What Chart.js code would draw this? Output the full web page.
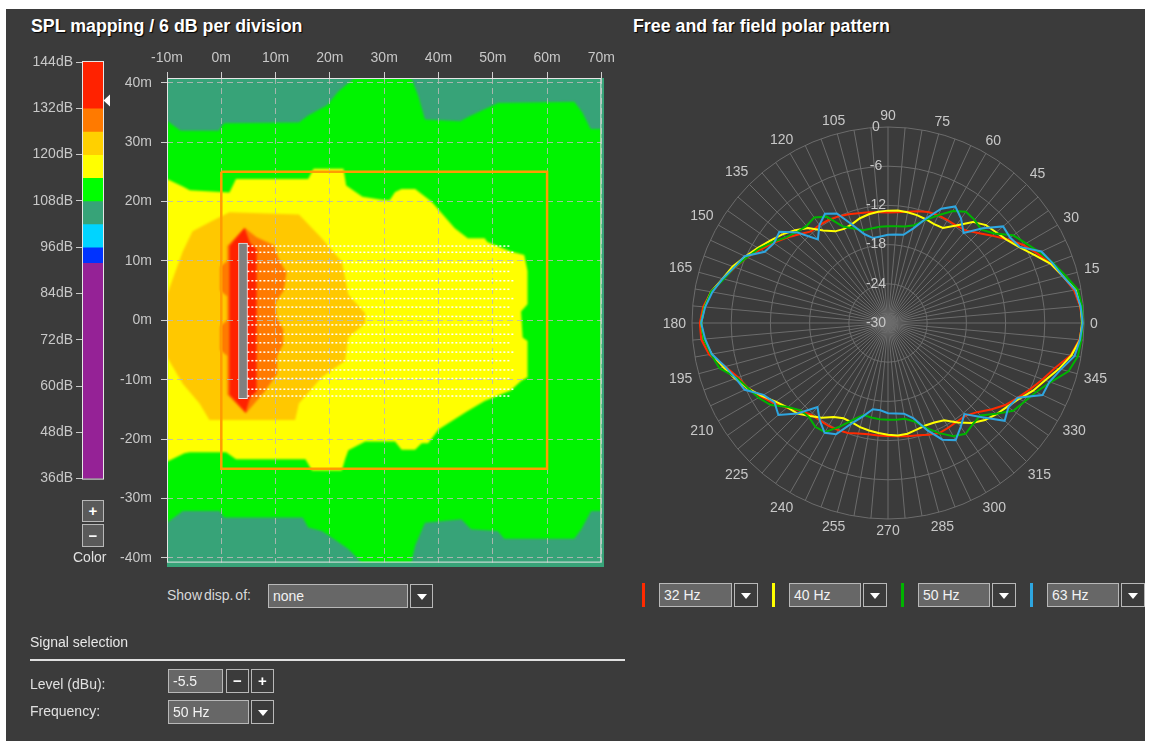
<!DOCTYPE html>
<html>
<head>
<meta charset="utf-8">
<script src="https://cdn.jsdelivr.net/npm/chart.js@4.4.1/dist/chart.umd.min.js"></script>
<style>
  html, body { margin: 0; padding: 0; background: #ffffff; }
  body { width: 1149px; height: 743px; position: relative; overflow: hidden;
         font-family: "Liberation Sans", Arial, sans-serif; }
  #panel { position: absolute; left: 6px; top: 9px; width: 1139px; height: 732px; background: #3b3b3b; }
  .abs { position: absolute; white-space: nowrap; }
  .title { color: #ffffff; font-weight: bold; font-size: 17.8px; text-shadow: 1px 1px 1px #000; }
  .lbl { color: #e4e4e4; font-size: 14px; }
  .box { position: absolute; box-sizing: border-box; background: #676767; border: 1px solid #b8b8b8;
         color: #f2f2f2; font-size: 14px; padding-left: 4px; }
  .btn { position: absolute; box-sizing: border-box; background: #3b3b3b; border: 1px solid #b8b8b8; }
  .arrow::after { content: ""; position: absolute; left: 50%; top: 50%; margin-left: -5px; margin-top: -2px;
                  border-left: 5px solid transparent; border-right: 5px solid transparent; border-top: 6px solid #ffffff; }
  .sym { color: #ffffff; font-weight: bold; font-size: 15px; text-align: center; }
  .sw { position: absolute; width: 3px; }
  canvas { position: absolute; }
</style>
</head>
<body>
<div id="panel"></div>

<div class="abs title" style="left:31px; top:16px;">SPL mapping / 6 dB per division</div>
<div class="abs title" style="left:633px; top:16px;">Free and far field polar pattern</div>

<div id="mapArea" class="abs" style="left:167px; top:78px; width:437px; height:489px; background:#37a378;"></div>
<canvas id="cbar" width="90" height="440" style="left:20px; top:50px;"></canvas>
<canvas id="map" width="520" height="540" style="left:100px; top:40px;"></canvas>
<canvas id="polar" width="520" height="450" style="left:628px; top:100px;"></canvas>

<!-- colour bar buttons -->
<div class="btn sym" style="left:82px; top:500px; width:22px; height:22px; line-height:20px; background:#5a5a5a;">+</div>
<div class="btn sym" style="left:82px; top:524px; width:22px; height:23px; line-height:21px; background:#5a5a5a;">&minus;</div>
<div class="abs lbl" style="left:73px; top:549px; color:#e0e0e0;">Color</div>

<!-- display selector -->
<div class="abs lbl" style="left:167px; top:587px; color:#d8d8d8; word-spacing:-2px;">Show disp. of:</div>
<div class="box" style="left:268px; top:584px; width:140px; height:24px; line-height:22px;">none</div>
<div class="btn arrow" style="left:410px; top:584px; width:23px; height:24px;"></div>

<!-- signal selection -->
<div class="abs lbl" style="left:30px; top:634px; color:#e8e8e8;">Signal selection</div>
<div class="abs" style="left:30px; top:659px; width:595px; height:2px; background:#e0e0e0;"></div>
<div class="abs lbl" style="left:30px; top:676px; color:#e0e0e0;">Level (dBu):</div>
<div class="box" style="left:168px; top:669px; width:55px; height:24px; line-height:22px;">-5.5</div>
<div class="btn sym" style="left:226px; top:669px; width:23px; height:24px; line-height:22px;">&minus;</div>
<div class="btn sym" style="left:251px; top:669px; width:23px; height:24px; line-height:22px;">+</div>
<div class="abs lbl" style="left:30px; top:703px; color:#e0e0e0;">Frequency:</div>
<div class="box" style="left:168px; top:700px; width:81px; height:24px; line-height:22px;">50 Hz</div>
<div class="btn arrow" style="left:251px; top:700px; width:23px; height:24px;"></div>

<!-- polar series selectors -->
<div class="sw" style="left:642px; top:583px; height:24px; background:#ff2a00;"></div>
<div class="box" style="left:659px; top:583px; width:73px; height:24px; line-height:22px;">32 Hz</div>
<div class="btn arrow" style="left:734px; top:583px; width:24px; height:24px;"></div>
<div class="sw" style="left:772px; top:583px; height:24px; background:#ffff00;"></div>
<div class="box" style="left:789px; top:583px; width:72px; height:24px; line-height:22px;">40 Hz</div>
<div class="btn arrow" style="left:863px; top:583px; width:24px; height:24px;"></div>
<div class="sw" style="left:901px; top:583px; height:24px; background:#00b400;"></div>
<div class="box" style="left:918px; top:583px; width:72px; height:24px; line-height:22px;">50 Hz</div>
<div class="btn arrow" style="left:992px; top:583px; width:24px; height:24px;"></div>
<div class="sw" style="left:1030px; top:583px; height:24px; background:#2ea6e0;"></div>
<div class="box" style="left:1047px; top:583px; width:72px; height:24px; line-height:22px;">63 Hz</div>
<div class="btn arrow" style="left:1121px; top:583px; width:24px; height:24px;"></div>

<script>
// ---------------- colour scale (dB bands) ----------------
const cbLow    = [132, 126, 120, 114, 108, 102, 96, 92, 36];
const cbHigh   = [144, 132, 126, 120, 114, 108, 102, 96, 92];
const cbColors = ['#ff2200', '#ff7a00', '#ffd000', '#ffff00', '#00ff00', '#37a378', '#00d4ff', '#0033ff', '#952296'];
const cbTicks  = [36, 48, 60, 72, 84, 96, 108, 120, 132, 144];
const cbMarker = 134;

// ---------------- SPL map: axes ----------------
const mapXTicks = [-10, 0, 10, 20, 30, 40, 50, 60, 70];
const mapYTicks = [-40, -30, -20, -10, 0, 10, 20, 30, 40];

// ---------------- SPL map: level regions (outline vertices, metres) ----------------
// >= 108 dB
const greenX = [-10, -7.5, -0.5, 0.5, 14.3, 16, 19.5, 21.5, 24.5, 35, 36.3, 37.5, 44, 46, 51, 65, 66.5, 68, 70,
                70, 68.1, 66.3, 65, 52.1, 50.9, 46, 44.2, 37.5, 35.7, 35, 25.8, 25.2, 23.4, 20.4, 18.5, 16, 15, 0.5, -0.3, -7.1, -10];
const greenY = [33.6, 31.9, 31.9, 33.2, 33.3, 34.5, 36.2, 38.5, 40.8, 40.8, 37.7, 33.8, 33.5, 34.5, 36.6, 36.8, 35, 32.2, 32.2,
                -32.1, -32.1, -35.2, -36.8, -36.8, -35.5, -35.2, -33.5, -34.1, -37.9, -40.8, -40.8, -40.2, -38.5, -36.6, -35.5, -34.9, -33.2, -33.2, -32.1, -32.1, -34.1];
// >= 114 dB
const yellowX = [-10, -7, -5.8, 1.5, 2.7, 16, 17, 22.5, 23, 26, 29.5, 31, 32, 33.2, 35.7, 38.7, 43, 45.4, 48.5, 49, 53.3, 55.8, 56.4, 56.4, 55.2, 55.5, 56.4, 56.4, 55.2, 53.3,
                 48.5, 45, 40, 38.1, 36.9, 35.7, 33.2, 32, 26.5, 23.4, 22.8, 22.2, 16.7, 15.5, 2.7, 0.9, -5.8, -6.8, -10];
const yellowY = [23.8, 22.5, 21.9, 21.5, 23.8, 23.8, 25.5, 25.5, 22.7, 20.8, 20.3, 20.2, 21.6, 22.1, 22.1, 20, 15.5, 13.8, 13.8, 13.2, 11.6, 11, 8.3, 2.7, 1.5, -2.9, -3.5, -9.6, -10.2, -11.8,
                 -13.6, -15.5, -18.4, -20.7, -20.7, -21.8, -21.8, -20.4, -20.4, -21.9, -23.4, -25.3, -25.3, -23.4, -23.4, -22.2, -22.2, -22.4, -23.8];
// >= 120 dB
const goldX = [-10, -7.1, -5.3, -2, 1.5, 14.3, 18.5, 22.2, 23.4, 26.5, 26.5, 23.4, 22.8, 18.5, 14.3, 13.6, -2.2, -4, -7.1, -10];
const goldY = [4.3, 11.6, 15, 16.6, 18.2, 17.8, 13.8, 9.9, 4.3, 1.2, -0.5, -2.9, -6.8, -9.6, -14, -16.8, -16.8, -14, -10.7, -6.2];
// >= 126 dB
const orangeX = [1.1, 4.3, 6.5, 9.8, 10.5, 12, 11.5, 10, 10.2, 11.4, 11.4, 10.3, 10.3, 8, 4.5, 1.1, 1.1, -0.2, -0.2, 1.1, 1.1, -0.2, -0.2, 1.1];
const orangeY = [12.5, 15.6, 14, 12.6, 10.5, 8, 5, 3, 0.5, -1.5, -4, -6, -9, -12, -15.7, -12.5, -6, -5, -1, 0, 4, 5, 9, 10];
// >= 132 dB
const redX = [1.5, 4.3, 5.3, 6.5, 6.5, 5.3, 4.5, 1.5];
const redY = [12.5, 15.5, 13, 12, -12, -13, -15.5, -12.5];

// loudspeaker column and audience area
const speakerX = 4;
const speakerTop = 13;
const speakerBottom = -13.2;
const venueX = [0, 60, 60, 0, 0];
const venueY = [25, 25, -25, -25, 25];

// coverage rays from the array
const rayStartX = 4.8;
const rayY   = [12.5, 11.45, 9.73, 8.23, 6.66, 5.22, 3.66, 2.22, 0.65, -0.78, -2.35, -3.79, -5.36, -6.8, -8.36, -9.8, -11.6, -12.75];
const rayEndX = [53.4, 54.1, 54.1, 53.4, 54.1, 53.4, 54.1, 53.4, 54.1, 53.4, 54.1, 53.4, 54.1, 53.4, 54.1, 53.4, 54.1, 53.4];

// ---------------- polar pattern (dB, angles 0..355 step 5, counter-clockwise from right) ----------------
const polarAngles = [0,5,10,15,20,25,30,35,40,45,50,55,60,65,70,75,80,85,90,95,100,105,110,115,120,125,130,135,140,145,150,155,160,165,170,175,
                     180,185,190,195,200,205,210,215,220,225,230,235,240,245,250,255,260,265,270,275,280,285,290,295,300,305,310,315,320,325,330,335,340,345,350,355];
const spl32 = [-0.2,-0.5,-1.1,-2.3,-3.5,-4.8,-6.1,-7.7,-9.2,-10.5,-11.5,-11.8,-11.8,-11.8,-11.9,-12.3,-12.7,-13.0,-13.1,-13.0,-12.8,-12.6,-12.3,-12.0,-11.8,-11.7,-11.7,-10.8,-9.7,-8.6,-7.5,-6.2,-5.1,-3.9,-2.5,-1.6,
               -1.2,-1.3,-2.2,-4.2,-5.6,-6.4,-7.5,-8.6,-9.8,-11.0,-11.7,-11.8,-11.8,-11.9,-12.1,-12.5,-12.7,-12.7,-12.7,-12.6,-12.4,-12.2,-11.8,-11.4,-11.5,-11.6,-11.5,-10.7,-9.4,-8.1,-7.1,-6.0,-4.8,-3.5,-1.6,-0.6];
const spl40 = [-0.3,-0.4,-0.8,-2.3,-3.5,-5.3,-6.8,-7.8,-8.4,-8.8,-9.8,-11.8,-13.2,-13.3,-13.1,-12.9,-12.8,-12.7,-12.8,-12.9,-13.1,-13.4,-13.9,-14.1,-13.8,-12.7,-11.0,-9.9,-8.9,-8.0,-7.0,-5.9,-4.7,-3.8,-2.5,-1.8,
               -1.4,-1.7,-2.6,-3.9,-5.1,-6.3,-7.7,-9.0,-9.9,-10.4,-11.4,-12.3,-13.4,-13.9,-13.8,-13.5,-13.3,-13.1,-12.9,-12.7,-12.8,-13.1,-13.3,-13.2,-12.8,-11.4,-10.0,-9.0,-8.3,-7.7,-6.8,-5.5,-4.4,-2.9,-1.5,-0.5];
const spl50 = [-0.2,-0.2,-0.5,-1.9,-3.1,-4.4,-5.6,-6.6,-8.7,-9.8,-9.4,-9.2,-10.2,-11.8,-13.2,-14.5,-15.0,-15.15,-15.2,-15.2,-15.3,-15.3,-14.6,-13.7,-11.2,-10.3,-10.6,-10.3,-9.6,-8.4,-7.2,-6.2,-5.0,-4.0,-2.5,-1.8,
               -1.4,-1.7,-2.5,-3.3,-5.4,-6.4,-7.1,-8.1,-10.0,-11.1,-11.2,-10.6,-10.7,-12.5,-14.2,-15.4,-15.3,-15.2,-15.2,-15.15,-15.1,-14.4,-12.9,-11.4,-10.0,-9.3,-9.8,-10.0,-8.4,-6.6,-5.9,-5.0,-3.5,-1.4,-0.5,-0.3];
const spl63 = [-0.2,-0.4,-0.9,-2.3,-3.2,-4.1,-6.7,-7.2,-7.0,-9.5,-12.0,-10.5,-9.4,-10.7,-13.0,-15.0,-16.3,-16.4,-16.5,-16.7,-16.8,-15.9,-14.0,-11.5,-10.7,-11.7,-13.3,-10.4,-8.3,-8.7,-8.2,-5.8,-5.0,-3.8,-2.7,-1.9,
               -1.4,-1.9,-2.6,-4.2,-5.2,-5.8,-8.0,-8.8,-8.1,-10.4,-13.2,-11.8,-10.6,-11.2,-13.6,-15.2,-16.6,-16.6,-16.2,-16.1,-15.9,-14.9,-12.6,-10.3,-9.3,-10.6,-11.8,-9.6,-6.7,-7.5,-7.1,-3.9,-3.7,-2.6,-1.0,-0.5];
const polarRingTicks = [-30, -24, -18, -12, -6, 0];
const polarSeries = [
  { name: '32 Hz', values: spl32, color: '#ff2a00' },
  { name: '40 Hz', values: spl40, color: '#ffff00' },
  { name: '50 Hz', values: spl50, color: '#00b400' },
  { name: '63 Hz', values: spl63, color: '#2ea6e0' }
];

const FONT = '"Liberation Sans", Arial, sans-serif';
const TXT = '#c8c8c8';
Chart.defaults.font.family = FONT;

// ================= colour bar =================
const cbarPlugin = {
  id: 'cbarFrame',
  afterDraw(chart) {
    const {ctx, chartArea: a} = chart;
    const y = chart.scales.y.getPixelForValue(cbMarker);
    ctx.save();
    ctx.strokeStyle = '#e6e6e6';
    ctx.lineWidth = 1;
    ctx.strokeRect(a.left - 0.5, a.top - 0.5, a.right - a.left + 1, a.bottom - a.top + 1);
    ctx.fillStyle = '#ffffff';
    ctx.beginPath();
    ctx.moveTo(a.right + 0.5, y);
    ctx.lineTo(a.right + 7.5, y - 6.5);
    ctx.lineTo(a.right + 7.5, y + 6.5);
    ctx.closePath();
    ctx.fill();
    ctx.restore();
  }
};

new Chart(document.getElementById('cbar'), {
  type: 'bar',
  data: {
    labels: ['SPL'],
    datasets: cbLow.map((lo, i) => ({
      data: [[lo, cbHigh[i]]],
      backgroundColor: cbColors[i],
      borderWidth: 0,
      barPercentage: 1,
      categoryPercentage: 1,
      grouped: false
    }))
  },
  options: {
    responsive: false,
    animation: false,
    layout: { padding: { left: 0, top: 12, right: 7, bottom: 10 } },
    plugins: { legend: { display: false }, tooltip: { enabled: false } },
    scales: {
      x: { display: false },
      y: {
        min: 36, max: 144,
        afterBuildTicks: s => { s.ticks = cbTicks.map(v => ({ value: v })); },
        afterFit: s => { s.width = 63; },
        ticks: { color: TXT, font: { size: 14 }, padding: 3, callback: v => v + 'dB' },
        grid: { drawOnChartArea: false, drawTicks: true, tickLength: 7, color: '#c8c8c8', tickColor: '#c8c8c8' },
        border: { display: false }
      }
    }
  },
  plugins: [cbarPlugin]
});

// ================= SPL map =================
const poly = (xs, ys) => xs.map((x, i) => ({ x: x, y: ys[i] }));
const levelFill = (xs, ys, color) => ({
  type: 'line', data: poly(xs, ys), fill: 'shape', backgroundColor: color,
  borderWidth: 0, borderColor: 'rgba(0,0,0,0)', pointRadius: 0, tension: 0
});

const mapDatasets = [];
rayY.forEach((y, i) => {
  mapDatasets.push({
    type: 'line', data: [{ x: rayStartX, y: y }, { x: rayEndX[i], y: y }],
    borderColor: '#ffffff', borderWidth: 1.5, borderDash: [2, 2], pointRadius: 0, fill: false
  });
});
mapDatasets.push({
  type: 'bar', data: [{ x: speakerX, y: [speakerBottom, speakerTop] }],
  barThickness: 9, backgroundColor: '#808080', borderColor: '#e8e8e8', borderWidth: 1, borderSkipped: false
});
mapDatasets.push({
  type: 'line', data: poly(venueX, venueY), borderColor: '#ff9c00', borderWidth: 2.5,
  pointRadius: 0, fill: false, tension: 0
});
mapDatasets.push(levelFill(redX, redY, '#ff2200'));
mapDatasets.push(levelFill(orangeX, orangeY, '#ff7a00'));
mapDatasets.push(levelFill(goldX, goldY, '#ffc800'));
mapDatasets.push(levelFill(yellowX, yellowY, '#ffff00'));
mapDatasets.push(levelFill(greenX, greenY, '#00f400'));

// level fills are painted in the filler's beforeDraw pass: soften their edges,
// then switch the filter off before the grid and marks are drawn
const softFill = {
  id: 'softFill',
  beforeRender(chart) { chart.ctx.filter = 'blur(1.1px)'; },
  beforeDraw(chart) { chart.ctx.filter = 'none'; }
};

const mapFrame = {
  id: 'mapFrame',
  afterDraw(chart) {
    const {ctx, chartArea: a} = chart;
    ctx.save();
    ctx.strokeStyle = '#e6e6e6';
    ctx.lineWidth = 1;
    ctx.strokeRect(a.left + 0.5, a.top + 0.5, a.right - a.left - 1, a.bottom - a.top - 1);
    ctx.restore();
  }
};

const axisCommon = {
  type: 'linear',
  offset: false,
  ticks: { color: TXT, font: { size: 14 }, maxRotation: 0, autoSkip: false, callback: v => v + 'm' },
  grid: { offset: false, color: 'rgba(185,185,185,0.85)', lineWidth: 1, tickLength: 6, tickColor: '#cfcfcf' },
  border: { display: false, dash: [6, 4] }
};

new Chart(document.getElementById('map'), {
  type: 'line',
  data: { datasets: mapDatasets },
  options: {
    responsive: false,
    animation: false,
    layout: { padding: { left: 0, top: 0, right: 16, bottom: 13 } },
    plugins: { legend: { display: false }, tooltip: { enabled: false }, filler: { drawTime: 'beforeDraw' } },
    scales: {
      x: Object.assign({}, axisCommon, {
        position: 'top', min: -10, max: 70,
        afterBuildTicks: s => { s.ticks = mapXTicks.map(v => ({ value: v })); },
        afterFit: s => { s.height = 38; },
        ticks: Object.assign({}, axisCommon.ticks, { padding: 5 })
      }),
      y: Object.assign({}, axisCommon, {
        position: 'left', min: -40.8, max: 40.8,
        afterBuildTicks: s => { s.ticks = mapYTicks.map(v => ({ value: v })); },
        afterFit: s => { s.width = 67; },
        ticks: Object.assign({}, axisCommon.ticks, { padding: 9 })
      })
    }
  },
  plugins: [softFill, mapFrame]
});

// ================= polar pattern =================
// angles run counter-clockwise from the right; the radial scale runs clockwise from the top
const polarLabels = polarAngles.map((_, i) => (90 - 5 * i + 360) % 360);
const valueAt = (values, ang) => values[polarAngles.indexOf(ang)];

const polarText = {
  id: 'polarText',
  afterDraw(chart) {
    const s = chart.scales.r;
    const ctx = chart.ctx;
    const R = s.drawingArea;
    ctx.save();
    ctx.font = '14px ' + FONT;
    ctx.fillStyle = TXT;
    ctx.textAlign = 'center';
    ctx.textBaseline = 'middle';
    polarLabels.forEach((ang, i) => {
      if (ang % 15 !== 0) return;
      const p = s.getPointPosition(i, 1);
      const dx = p.x - s.xCenter, dy = p.y - s.yCenter;
      const len = Math.hypot(dx, dy);
      const ux = dx / len, uy = dy / len;
      const txt = String(ang);
      const w = ctx.measureText(txt).width, h = 11;
      const d = R + 6 + Math.abs(ux) * w / 2 + Math.abs(uy) * h / 2;
      ctx.fillText(txt, s.xCenter + ux * d, s.yCenter + uy * d + 1);
    });
    polarRingTicks.forEach(v => {
      const d = s.getDistanceFromCenterForValue(v);
      ctx.fillText(String(v), s.xCenter - 12, s.yCenter - d);
    });
    ctx.restore();
  }
};

new Chart(document.getElementById('polar'), {
  type: 'radar',
  data: {
    labels: polarLabels,
    datasets: polarSeries.map(sr => ({
      label: sr.name,
      data: polarLabels.map(a => valueAt(sr.values, a)),
      borderColor: sr.color,
      backgroundColor: 'rgba(0,0,0,0)',
      borderWidth: 2,
      pointRadius: 0,
      fill: false,
      tension: 0
    })).reverse()
  },
  options: {
    responsive: false,
    animation: false,
    layout: { padding: { left: 64, right: 64, top: 27, bottom: 31 } },
    plugins: { legend: { display: false }, tooltip: { enabled: false } },
    scales: {
      r: {
        min: -30, max: 0, startAngle: 0,
        afterBuildTicks: s => { s.ticks = polarRingTicks.map(v => ({ value: v })); },
        ticks: { display: false },
        pointLabels: { display: false },
        grid: { circular: true, color: '#6c6c6c', lineWidth: 1 },
        angleLines: { color: '#6c6c6c', lineWidth: 1 }
      }
    }
  },
  plugins: [polarText]
});
</script>
</body>
</html>
